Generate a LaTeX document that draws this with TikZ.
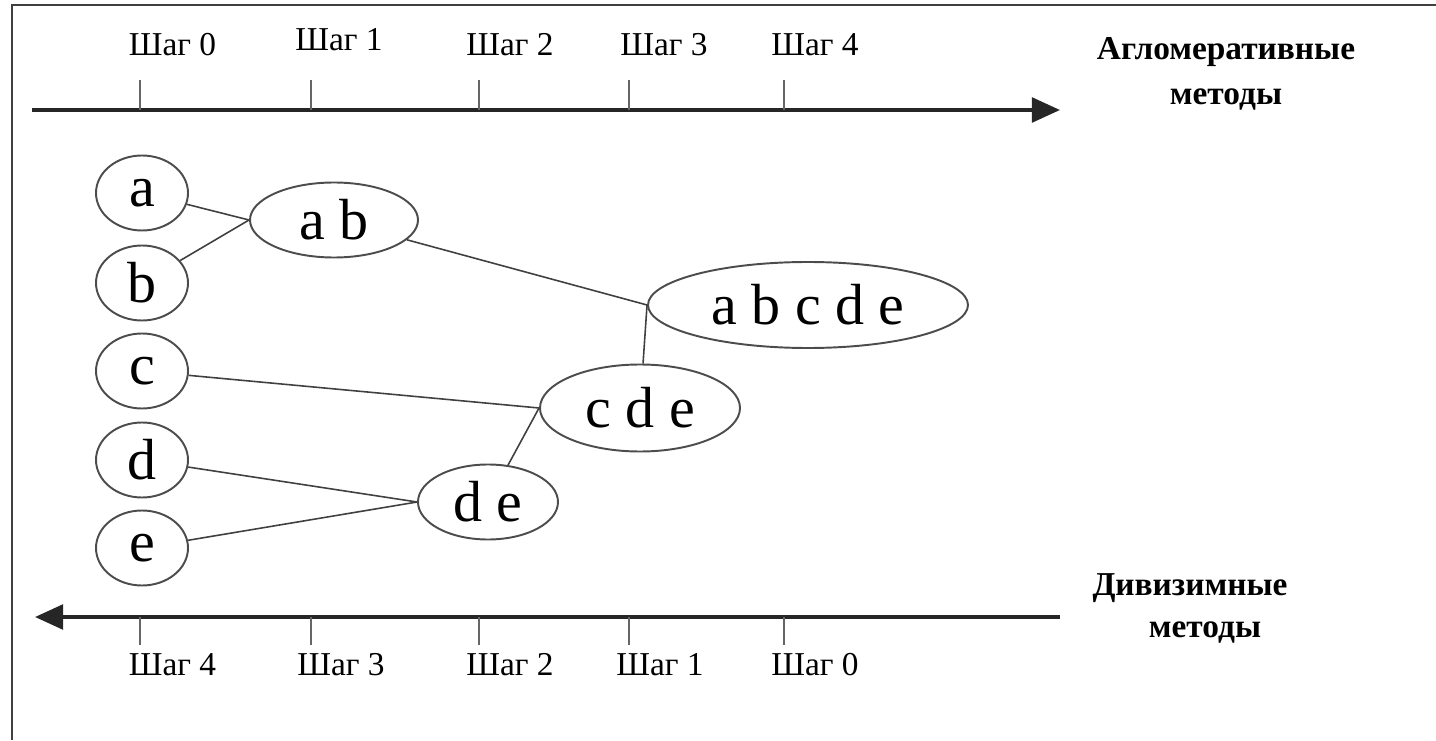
\documentclass[tikz,border=0pt]{standalone}
\usepackage{fontspec}
\setmainfont{Liberation Serif}
\usetikzlibrary{shapes.geometric,arrows.meta}

\begin{document}
\begin{tikzpicture}
        \tikzset{
            leaf/.style={ellipse, draw=black!70, line width=1.1pt, minimum width=1.84cm,
            minimum height=1.5cm, inner sep=0pt, font=\fontsize{33}{38}\selectfont},
            grp/.style={leaf},
            c1/.style={-, draw=black!75, line width=0.9pt},
            axis/.style={draw=black!85, line width=2.2pt, -{Triangle[length=16pt,width=14pt]}},
            tk/.style={draw=black!60, line width=1.3pt},
            lbl/.style={font=\fontsize{19}{21}\selectfont},
            mth/.style={font=\bfseries\fontsize{19}{22}\selectfont}
            }

            \useasboundingbox (0,0) rectangle (28.72,14.8);
            \draw[black!75, line width=1pt] (0.24,0) -- (0.24,14.7) -- (28.72,14.7);

            % agglomerative axis
            \draw[axis] (0.64,12.6) -- (21.2,12.6);
            \draw[tk] (2.8,12.6) -- (2.8,13.2);
            \draw[tk] (6.22,12.6) -- (6.22,13.2);
            \draw[tk] (9.58,12.6) -- (9.58,13.2);
            \draw[tk] (12.58,12.6) -- (12.58,13.2);
            \draw[tk] (15.68,12.6) -- (15.68,13.2);
            \node[lbl] (t0) at (3.45,13.9) {Шаг 0};
            \node[lbl] (t1) at (6.78,14.0) {Шаг 1};
            \node[lbl] (t2) at (10.2,13.9) {Шаг 2};
            \node[lbl] (t3) at (13.28,13.9) {Шаг 3};
            \node[lbl] (t4) at (16.3,13.9) {Шаг 4};
            \node[mth] (agl) at (24.52,13.76) {Агломеративные};
            \node[mth] (agm) at (24.52,12.8) {методы};

            % divisive axis
            \draw[axis] (21.2,2.46) -- (0.7,2.46);
            \draw[tk] (2.8,2.46) -- (2.8,1.9);
            \draw[tk] (6.22,2.46) -- (6.22,1.9);
            \draw[tk] (9.58,2.46) -- (9.58,1.9);
            \draw[tk] (12.58,2.46) -- (12.58,1.9);
            \draw[tk] (15.68,2.46) -- (15.68,1.9);
            \node[lbl] (s4) at (3.45,1.5) {Шаг 4};
            \node[lbl] (s3) at (6.82,1.5) {Шаг 3};
            \node[lbl] (s2) at (10.2,1.5) {Шаг 2};
            \node[lbl] (s1) at (13.2,1.5) {Шаг 1};
            \node[lbl] (s0) at (16.3,1.5) {Шаг 0};
            \node[mth] (dvl) at (23.8,3.04) {Дивизимные};
            \node[mth] (dvm) at (24.1,2.14) {методы};

            % clusters
            \node[leaf] (na) at (2.84,10.94) {a};
            \node[leaf] (nb) at (2.84,9.14) {b};
            \node[leaf] (nc) at (2.84,7.38) {c};
            \node[leaf] (nd) at (2.84,5.6) {d};
            \node[leaf] (ne) at (2.84,3.84) {e};
            \node[grp, minimum width=3.36cm] (nab) at (6.68,10.4) {a b};
            \node[grp, minimum width=2.8cm] (nde) at (9.76,4.76) {d e};
            \node[grp, minimum width=4.0cm, minimum height=1.74cm] (ncde) at (12.8,6.64) {c d e};
            \node[grp, minimum width=6.4cm, minimum height=1.72cm] (nall) at (16.16,8.7) {a b c d e};

            \draw[c1] (na) -- (nab.west);
            \draw[c1] (nb) -- (nab.west);
            \draw[c1] (nc) -- (ncde.west);
            \draw[c1] (nd) -- (nde.west);
            \draw[c1] (ne) -- (nde.west);
            \draw[c1] (nde) -- (ncde.west);
            \draw[c1] (nab) -- (nall.west);
            \draw[c1] (ncde) -- (nall.west);
        \end{tikzpicture}
\end{document}
